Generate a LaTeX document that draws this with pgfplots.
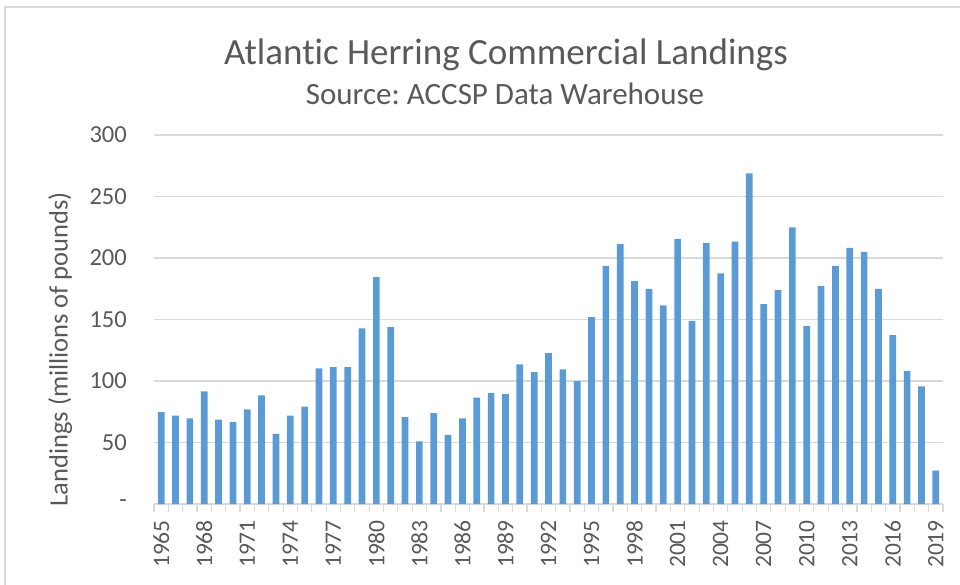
\documentclass[border=0pt]{standalone}
\usepackage{fontspec}
\setmainfont{Carlito}[Ligatures={NoCommon}]
\usepackage{pgfplots}
\pgfplotsset{compat=1.18}
\definecolor{barblue}{HTML}{5B9BD5}
\definecolor{txtgray}{HTML}{595959}
\definecolor{gridgray}{HTML}{D9D9D9}
\frenchspacing
\begin{document}
\begin{tikzpicture}[x=1pt,y=1pt]
\useasboundingbox (0,0) rectangle (960,584);
\draw[gridgray, line width=1.5pt] (5,-5) -- (5,577) -- (965,577);
\node[anchor=base, text=txtgray, font=\fontsize{37}{44}\selectfont] at (506,519) {Atlantic Herring Commercial Landings};
\node[anchor=base, text=txtgray, font=\fontsize{31}{37}\selectfont] at (505,479) {Source: ACCSP Data Warehouse};
\begin{axis}[
  at={(154pt,80pt)}, anchor=south west,
  scale only axis, width=789pt, height=369pt,
  xmin=1964.5, xmax=2019.5, ymin=0, ymax=300,
  ybar, bar width=6.7pt,
  axis x line*=bottom, axis y line*=left,
  y axis line style={draw=none},
  x axis line style={gridgray, line width=1.5pt},
  ymajorgrids, grid style={gridgray, line width=1.5pt},
  ytick={0,50,100,150,200,250,300},
  yticklabels={-,50,100,150,200,250,300},
  ytick style={draw=none},
  xtick={1965,1968,...,2019},
  minor xtick={1964.5,1965.5,...,2019.5},
  major tick length=0pt, minor tick length=8pt,
  tick align=outside,
  xtick style={gridgray, line width=1.2pt},
  minor tick style={gridgray, line width=1.2pt},
  xticklabel style={rotate=90, anchor=east, text=txtgray, font=\fontsize{23.5}{27}\selectfont, inner sep=0pt},
  xticklabel shift=16pt,
  yticklabel style={anchor=east, text=txtgray, font=\fontsize{24.5}{28}\selectfont, inner sep=0pt},
  yticklabel shift=27pt,
  /pgf/number format/.cd, 1000 sep={}, assume math mode=true,
  /pgfplots/.cd,
  ylabel={Landings (millions of pounds)},
  ylabel style={at={(axis description cs:-0.119,0.42)}, anchor=center, text=txtgray, font=\fontsize{26.5}{30}\selectfont},
]
\addplot[fill=barblue, draw=none] coordinates {
(1965,74.7) (1966,71.8) (1967,69.6) (1968,91.5) (1969,68.5) (1970,66.6)
(1971,76.9) (1972,88.3) (1973,57.1) (1974,71.8) (1975,79.1) (1976,110.2)
(1977,111.3) (1978,111.3) (1979,142.7) (1980,184.4) (1981,143.8) (1982,70.7)
(1983,50.9) (1984,73.9) (1985,56.1) (1986,69.6) (1987,86.4) (1988,90.4)
(1989,89.4) (1990,113.5) (1991,107.2) (1992,122.7) (1993,109.4) (1994,99.9)
(1995,151.9) (1996,193.6) (1997,211.2) (1998,181.2) (1999,174.9) (2000,161.4)
(2001,215.5) (2002,148.9) (2003,212.3) (2004,187.4) (2005,213.4) (2006,268.9)
(2007,162.5) (2008,173.8) (2009,225.0) (2010,144.6) (2011,177.1) (2012,193.6)
(2013,208.2) (2014,205.0) (2015,174.9) (2016,137.3) (2017,108.3) (2018,95.6)
(2019,27.1)
};
\end{axis}
\end{tikzpicture}
\end{document}
